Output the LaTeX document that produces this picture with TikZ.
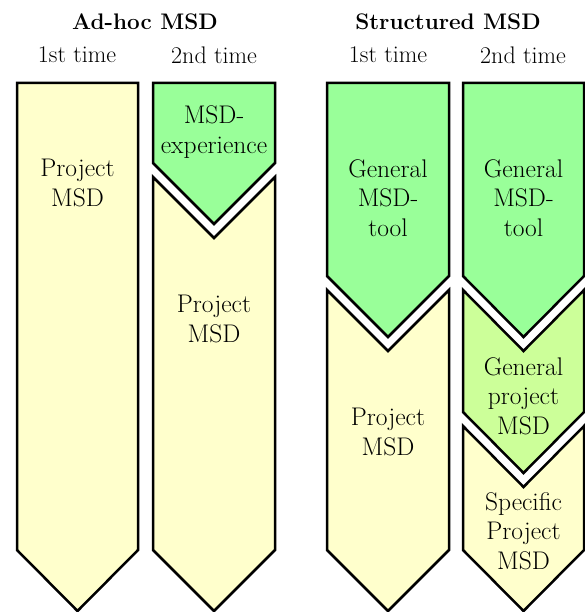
\documentclass[tikz,border=0pt]{standalone}

\definecolor{msdyellow}{HTML}{FFFFCC}
\definecolor{msdgreen}{HTML}{99FF99}
\definecolor{msdlight}{HTML}{CCFF99}

\tikzset{
  part/.style={draw=black, line width=2.5pt, line join=miter},
  txt/.style={align=center, font=\fontsize{25.5}{29.5}\selectfont},
  head/.style={font=\fontsize{24}{28}\selectfont},
  title/.style={font=\bfseries\fontsize{22.5}{26}\selectfont}
}

\begin{document}
\begin{tikzpicture}[x=1pt,y=-1pt]
    \useasboundingbox (0,0) rectangle (584,612);
    % headings
    \node[title] (adhoc) at (145,22) {Ad-hoc MSD};
    \node[title] (struct) at (448,22) {Structured MSD};
    \foreach \x/\n/\t in {77/a/1st,214/b/2nd,388/c/1st,523/d/2nd}
      \node[head] (time\n) at (\x,55) {\t\ time};
    % ad-hoc, 1st time
    \draw[part, fill=msdyellow] (17,83) -- (138,83) -- (138,550) -- (77.5,611) -- (17,550) -- cycle;
    \node[txt] (proja) at (77.5,183) {Project\\MSD};
    % ad-hoc, 2nd time
    \draw[part, fill=msdgreen] (153,83) -- (275,83) -- (275,163) -- (214,224) -- (153,163) -- cycle;
    \draw[part, fill=msdyellow] (153,177) -- (214,238) -- (275,177) -- (275,550) -- (214,611) -- (153,550) -- cycle;
    \node[txt] (expb) at (214,132) {MSD-\\experience};
    \node[txt] (projb) at (214,319) {Project\\MSD};
    % structured, 1st time
    \draw[part, fill=msdgreen] (327,83) -- (449,83) -- (449,276) -- (388,337) -- (327,276) -- cycle;
    \draw[part, fill=msdyellow] (327,290) -- (388,351) -- (449,290) -- (449,550) -- (388,611) -- (327,550) -- cycle;
    \node[txt] (toolc) at (388,198) {General\\MSD-\\tool};
    \node[txt] (projc) at (388,432) {Project\\MSD};
    % structured, 2nd time
    \draw[part, fill=msdgreen] (463,83) -- (584,83) -- (584,276) -- (523.5,337) -- (463,276) -- cycle;
    \draw[part, fill=msdlight] (463,290) -- (523.5,351) -- (584,290) -- (584,412) -- (523.5,473) -- (463,412) -- cycle;
    \draw[part, fill=msdyellow] (463,426) -- (523.5,487) -- (584,426) -- (584,550) -- (523.5,611) -- (463,550) -- cycle;
    \node[txt] (toold) at (523.5,198) {General\\MSD-\\tool};
    \node[txt] (gend) at (523.5,396) {General\\project\\MSD};
    \node[txt] (specd) at (523.5,531) {Specific\\Project\\MSD};
\end{tikzpicture}
\end{document}
